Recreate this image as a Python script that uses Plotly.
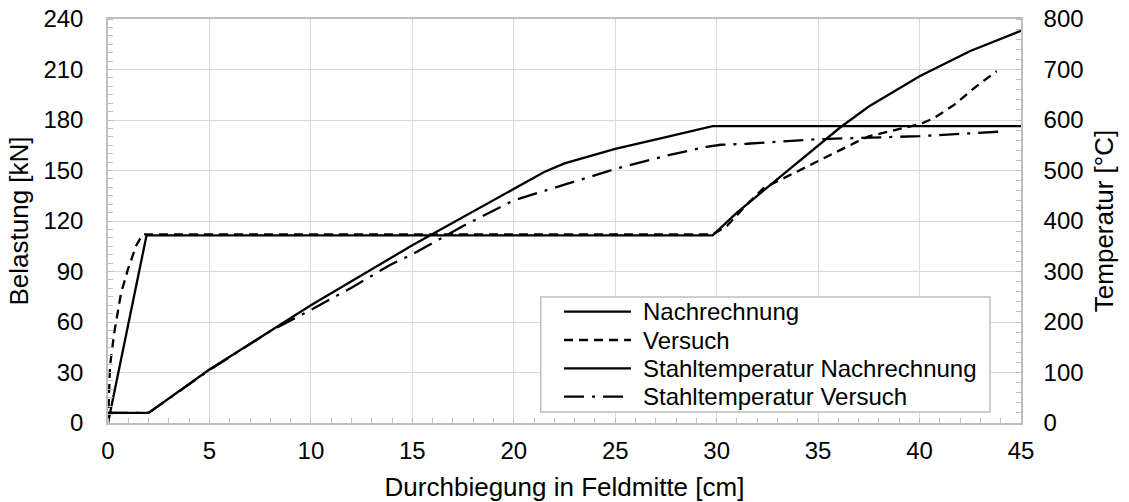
import plotly.graph_objects as go

# Deflection at midspan [cm] vs. load [kN]
load_calc_x = [0, 1.9, 29.8, 31, 32.5, 35, 36.1, 37.5, 40, 42.5, 45]
load_calc_y = [0, 111.5, 111.5, 125, 140, 165, 175.7, 188, 206, 221, 233]

load_test_x = [0, 0.02, 0.1, 0.3, 0.64, 1.0, 1.4, 1.7, 29.8, 30.5, 31.5, 32.3,
               33.8, 35, 36.9, 37.5, 39, 40, 40.7, 41.7, 42.8, 43.8]
load_test_y = [0, 10, 34, 53, 77, 92, 105.6, 112, 112, 117, 130, 139.4,
               148.5, 155.8, 167, 170.3, 174.7, 177.5, 181, 189, 200, 209]

# Deflection at midspan [cm] vs. steel temperature [°C]
temp_calc_x = [0, 2, 5, 10, 15, 20, 21.5, 22.5, 25, 27.5, 29.8, 45]
temp_calc_y = [20, 20, 106, 233, 352, 464, 497, 514, 543, 566, 588, 588]

temp_test_x = [0, 2, 5, 8, 10, 12, 13.9, 15, 17.5, 20, 22.5, 25, 27.5, 29.5,
               30.2, 31.5, 35, 40, 44]
temp_test_y = [20, 20, 105, 182, 224, 268, 313, 334, 390, 441, 472, 503, 529,
               547, 551, 553, 562, 568, 577]

x_ticks = [0, 5, 10, 15, 20, 25, 30, 35, 40, 45]
load_ticks = [0, 30, 60, 90, 120, 150, 180, 210, 240]
temp_ticks = [0, 100, 200, 300, 400, 500, 600, 700, 800]

legend_names = ["Nachrechnung", "Versuch",
                "Stahltemperatur Nachrechnung", "Stahltemperatur Versuch"]

FONT = "Liberation Sans, Arial, Helvetica, sans-serif"
LW = 2.3
DASHED = "9px,6px"
DASHDOT = "20px,8px,3px,8px"
GRID = "#d9d9d9"
AXIS = "#bfbfbf"

fig = go.Figure()

fig.add_trace(go.Scatter(x=temp_calc_x, y=temp_calc_y, mode="lines", yaxis="y2",
                         line=dict(color="black", width=LW), name=legend_names[2],
                         showlegend=False))
fig.add_trace(go.Scatter(x=temp_test_x, y=temp_test_y, mode="lines", yaxis="y2",
                         line=dict(color="black", width=LW, dash=DASHDOT),
                         name=legend_names[3], showlegend=False))
fig.add_trace(go.Scatter(x=load_test_x, y=load_test_y, mode="lines",
                         line=dict(color="black", width=LW, dash=DASHED),
                         name=legend_names[1], showlegend=False))
fig.add_trace(go.Scatter(x=load_calc_x, y=load_calc_y, mode="lines",
                         line=dict(color="black", width=LW), name=legend_names[0],
                         showlegend=False))

# Boxed legend with long line samples
box = dict(x0=0.474, x1=0.966, y0=0.027, y1=0.312)
rows_y = [0.2755, 0.2054, 0.1354, 0.0651]
dashes = ["solid", DASHED, "solid", DASHDOT]
shapes = [dict(type="rect", xref="paper", yref="paper", layer="above",
               line=dict(color=AXIS, width=1.5), fillcolor="white", **box)]
annotations = []
for name, yy, dsh in zip(legend_names, rows_y, dashes):
    shapes.append(dict(type="line", xref="paper", yref="paper", layer="above",
                       x0=0.4995, x1=0.5728, y0=yy, y1=yy,
                       line=dict(color="black", width=LW, dash=dsh)))
    annotations.append(dict(xref="paper", yref="paper", x=0.5835, y=yy,
                            xanchor="left", yanchor="middle", showarrow=False,
                            text=name, font=dict(family=FONT, size=24, color="black")))

tickfont = dict(family=FONT, size=24, color="black")
titlefont = dict(family=FONT, size=26, color="black")

fig.update_layout(
    width=1129, height=502, autosize=False,
    margin=dict(l=108, r=108, t=19, b=79, autoexpand=False),
    paper_bgcolor="white", plot_bgcolor="white",
    font=dict(family=FONT, color="black"),
    shapes=shapes, annotations=annotations,
    xaxis=dict(range=[0, 45], tickvals=x_ticks, showgrid=True, gridcolor=GRID,
               gridwidth=1, showline=True, linecolor=AXIS, linewidth=1.5,
               mirror=True, zeroline=False, ticks="", tickfont=tickfont,
               ticklabelstandoff=5, automargin=False,
               minor=dict(dtick=1, ticks="inside", ticklen=5, tickcolor=AXIS,
                          tickwidth=1, showgrid=False),
               title=dict(text="Durchbiegung in Feldmitte [cm]", font=titlefont,
                          standoff=24)),
    yaxis=dict(range=[0, 240], tickvals=load_ticks, showgrid=True, gridcolor=GRID,
               gridwidth=1, showline=True, linecolor=AXIS, linewidth=1.5,
               zeroline=False, ticks="", tickfont=tickfont, ticklabelstandoff=18,
               automargin=False,
               minor=dict(dtick=5, ticks="inside", ticklen=5, tickcolor=AXIS,
                          tickwidth=1, showgrid=False),
               title=dict(text="Belastung [kN]", font=titlefont, standoff=7)),
    yaxis2=dict(range=[0, 800], tickvals=temp_ticks, overlaying="y", side="right",
                showgrid=False, showline=True, linecolor=AXIS, linewidth=1.5,
                zeroline=False, ticks="", tickfont=tickfont, ticklabelstandoff=16,
                automargin=False,
                minor=dict(dtick=20, ticks="inside", ticklen=5, tickcolor=AXIS,
                           tickwidth=1, showgrid=False),
                title=dict(text="Temperatur [°C]", font=titlefont, standoff=12)),
)

fig.write_html("out.html")
